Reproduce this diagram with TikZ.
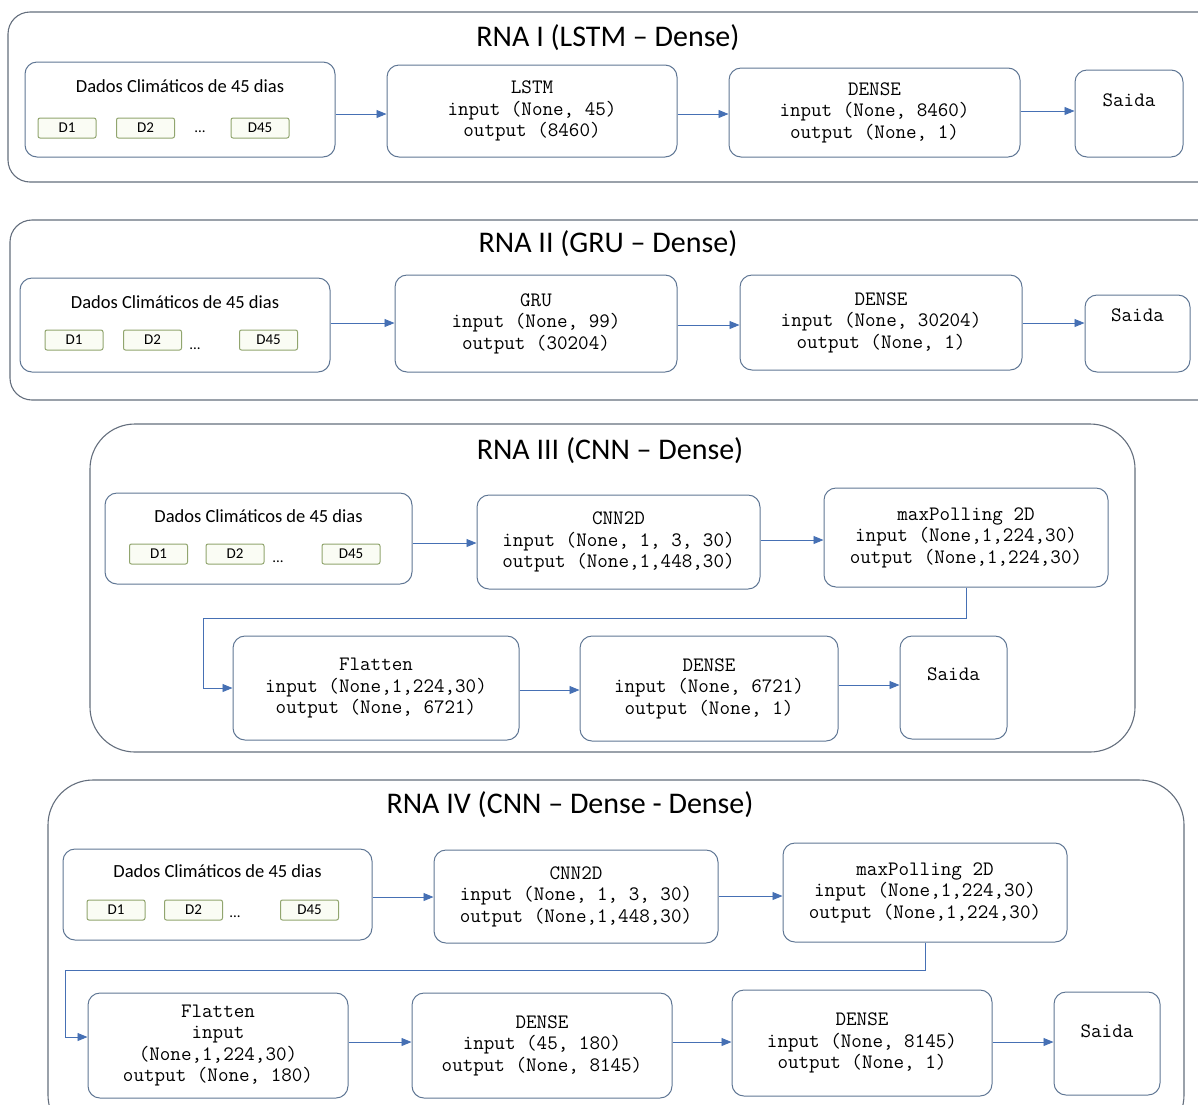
\documentclass[tikz,border=0pt]{standalone}
\usepackage{fontspec}
\setmainfont{Carlito}
\usetikzlibrary{arrows.meta,positioning}

\definecolor{boxline}{RGB}{95,118,148}
\definecolor{panelline}{RGB}{100,110,125}
\definecolor{flowblue}{RGB}{70,112,180}
\definecolor{dayline}{RGB}{145,165,110}
\definecolor{dayfill}{RGB}{250,252,244}

\tikzset{
  panel/.style={draw=panelline, line width=1.1pt, rounded corners=22pt},
  bigpanel/.style={panel, rounded corners=45pt},
  title/.style={font=\fontsize{30}{34}\selectfont},
  layer/.style={draw=boxline, line width=1pt, rounded corners=12pt, align=center,
    inner sep=0pt, font=\ttfamily\fontsize{20.5}{21.5}\selectfont},
  databox/.style={draw=boxline, line width=1pt, rounded corners=12pt},
  datatext/.style={anchor=center, font=\fontsize{18.5}{21}\selectfont},
  outtext/.style={anchor=center, font=\ttfamily\fontsize{20.5}{21.5}\selectfont},
  daybox/.style={draw=dayline, fill=dayfill, line width=1pt, rounded corners=2pt,
    minimum width=58pt, minimum height=20pt, inner sep=0pt, font=\fontsize{15}{17}\selectfont},
  dotstext/.style={font=\fontsize{15}{17}\selectfont},
  flow/.style={draw=flowblue, line width=0.9pt, ->, >={Triangle[length=10pt,width=8pt]}},
}

\begin{document}
\begin{tikzpicture}[x=1pt,y=-1pt]
  \useasboundingbox (0,0) rectangle (1198,1104);

  % RNA I
  \draw[panel] (8,12) rectangle (1220,182);
  \node[title] (t1) at (608,38) {RNA I (LSTM -- Dense)};
  \node[databox, minimum width=310pt, minimum height=95pt,
    label={[datatext, yshift=-25pt]north:Dados Climáticos de 45 dias}] (dados1) at (180,109.5) {};
  \node[daybox] (d11) at (67,128) {D1};
  \node[daybox] (d12) at (145.5,128) {D2};
  \node[dotstext] (dots1) at (200,132) {...};
  \node[daybox] (d145) at (260,128) {D45};
  \node[layer, minimum width=290pt, minimum height=92pt] (lstm) at (532,111)
    {LSTM\\input (None, 45)\\output (8460)};
  \node[layer, minimum width=291pt, minimum height=89pt] (dense1) at (874.5,112.5)
    {DENSE\\input (None, 8460)\\output (None, 1)};
  \node[layer, minimum width=108pt, minimum height=87pt,
    label={[outtext, yshift=-31pt]north:Saida}] (saida1) at (1129,113.5) {};
  \draw[flow] (dados1.east |- 0,114) -- (lstm.west |- 0,114);
  \draw[flow] (lstm.east |- 0,114) -- (dense1.west |- 0,114);
  \draw[flow] (dense1.east |- 0,111) -- (saida1.west |- 0,111);

  % RNA II
  \draw[panel] (10,220) rectangle (1220,400);
  \node[title] (t2) at (608,244) {RNA II (GRU -- Dense)};
  \node[databox, minimum width=310pt, minimum height=94pt,
    label={[datatext, yshift=-25pt]north:Dados Climáticos de 45 dias}] (dados2) at (175,325) {};
  \node[daybox] (d21) at (74,340) {D1};
  \node[daybox] (d22) at (152.5,340) {D2};
  \node[dotstext] (dots2) at (195,349) {...};
  \node[daybox] (d245) at (268.5,340) {D45};
  \node[layer, minimum width=282pt, minimum height=97pt] (gru) at (536,323.5)
    {GRU\\input (None, 99)\\output (30204)};
  \node[layer, minimum width=282pt, minimum height=95pt] (dense2) at (881,322.5)
    {DENSE\\input (None, 30204)\\output (None, 1)};
  \node[layer, minimum width=105pt, minimum height=77pt,
    label={[outtext, yshift=-21pt]north:Saida}] (saida2) at (1137.5,333.5) {};
  \draw[flow] (dados2.east |- 0,323) -- (gru.west |- 0,323);
  \draw[flow] (gru.east |- 0,325) -- (dense2.west |- 0,325);
  \draw[flow] (dense2.east |- 0,323) -- (saida2.west |- 0,323);

  % RNA III
  \draw[bigpanel] (90,424) rectangle (1135,752);
  \node[title] (t3) at (610,451) {RNA III (CNN -- Dense)};
  \node[databox, minimum width=307pt, minimum height=91pt,
    label={[datatext, yshift=-24pt]north:Dados Climáticos de 45 dias}] (dados3) at (258.5,538.5) {};
  \node[daybox] (d31) at (158.5,554) {D1};
  \node[daybox] (d32) at (235,554) {D2};
  \node[dotstext] (dots3) at (278,562) {...};
  \node[daybox] (d345) at (351,554) {D45};
  \node[layer, minimum width=283pt, minimum height=94pt] (cnn3) at (618.5,542)
    {CNN2D\\input (None, 1, 3, 30)\\output (None,1,448,30)};
  \node[layer, minimum width=284pt, minimum height=99pt] (maxp3) at (966,537.5)
    {maxPolling 2D\\input (None,1,224,30)\\output (None,1,224,30)};
  \node[layer, minimum width=286pt, minimum height=104pt] (flat3) at (376,688)
    {Flatten\\input (None,1,224,30)\\output (None, 6721)};
  \node[layer, minimum width=258pt, minimum height=105pt] (dense3) at (709,688.5)
    {DENSE\\input (None, 6721)\\output (None, 1)};
  \node[layer, minimum width=107pt, minimum height=103pt,
    label={[outtext, yshift=-39pt]north:Saida}] (saida3) at (953.5,687.5) {};
  \coordinate (bend3) at (203,618);
  \draw[flow] (dados3.east |- 0,543) -- (cnn3.west |- 0,543);
  \draw[flow] (cnn3.east |- 0,540) -- (maxp3.west |- 0,540);
  \draw[flow] (maxp3.south) |- (bend3) |- (flat3.west);
  \draw[flow] (flat3.east |- 0,690) -- (dense3.west |- 0,690);
  \draw[flow] (dense3.east |- 0,685) -- (saida3.west |- 0,685);

  % RNA IV
  \draw[bigpanel] (48,780) rectangle (1184,1140);
  \node[title] (t4) at (570,805) {RNA IV (CNN -- Dense - Dense)};
  \node[databox, minimum width=309pt, minimum height=91pt,
    label={[datatext, yshift=-23pt]north:Dados Climáticos de 45 dias}] (dados4) at (217.5,894.5) {};
  \node[daybox] (d41) at (116,910) {D1};
  \node[daybox] (d42) at (193.5,910) {D2};
  \node[dotstext] (dots4) at (235,917) {...};
  \node[daybox] (d445) at (309.5,910) {D45};
  \node[layer, minimum width=284pt, minimum height=93pt] (cnn4) at (576,896.5)
    {CNN2D\\input (None, 1, 3, 30)\\output (None,1,448,30)};
  \node[layer, minimum width=284pt, minimum height=99pt] (maxp4) at (925,892.5)
    {maxPolling 2D\\input (None,1,224,30)\\output (None,1,224,30)};
  \node[layer, minimum width=260pt, minimum height=105pt] (flat4) at (218,1045.5)
    {Flatten\\input\\(None,1,224,30)\\output (None, 180)};
  \node[layer, minimum width=260pt, minimum height=105pt] (dense4a) at (542,1045.5)
    {DENSE\\input (45, 180)\\output (None, 8145)};
  \node[layer, minimum width=260pt, minimum height=106pt] (dense4b) at (862,1043)
    {DENSE\\input (None, 8145)\\output (None, 1)};
  \node[layer, minimum width=106pt, minimum height=103pt,
    label={[outtext, yshift=-40pt]north:Saida}] (saida4) at (1107,1043.5) {};
  \coordinate (bend4) at (65,970);
  \draw[flow] (dados4.east |- 0,897) -- (cnn4.west |- 0,897);
  \draw[flow] (cnn4.east |- 0,896) -- (maxp4.west |- 0,896);
  \draw[flow] (maxp4.south) |- (bend4) |- (flat4.west |- 0,1037);
  \draw[flow] (flat4.east |- 0,1042) -- (dense4a.west |- 0,1042);
  \draw[flow] (dense4a.east |- 0,1042) -- (dense4b.west |- 0,1042);
  \draw[flow] (dense4b.east |- 0,1042) -- (saida4.west |- 0,1042);
\end{tikzpicture}
\end{document}
